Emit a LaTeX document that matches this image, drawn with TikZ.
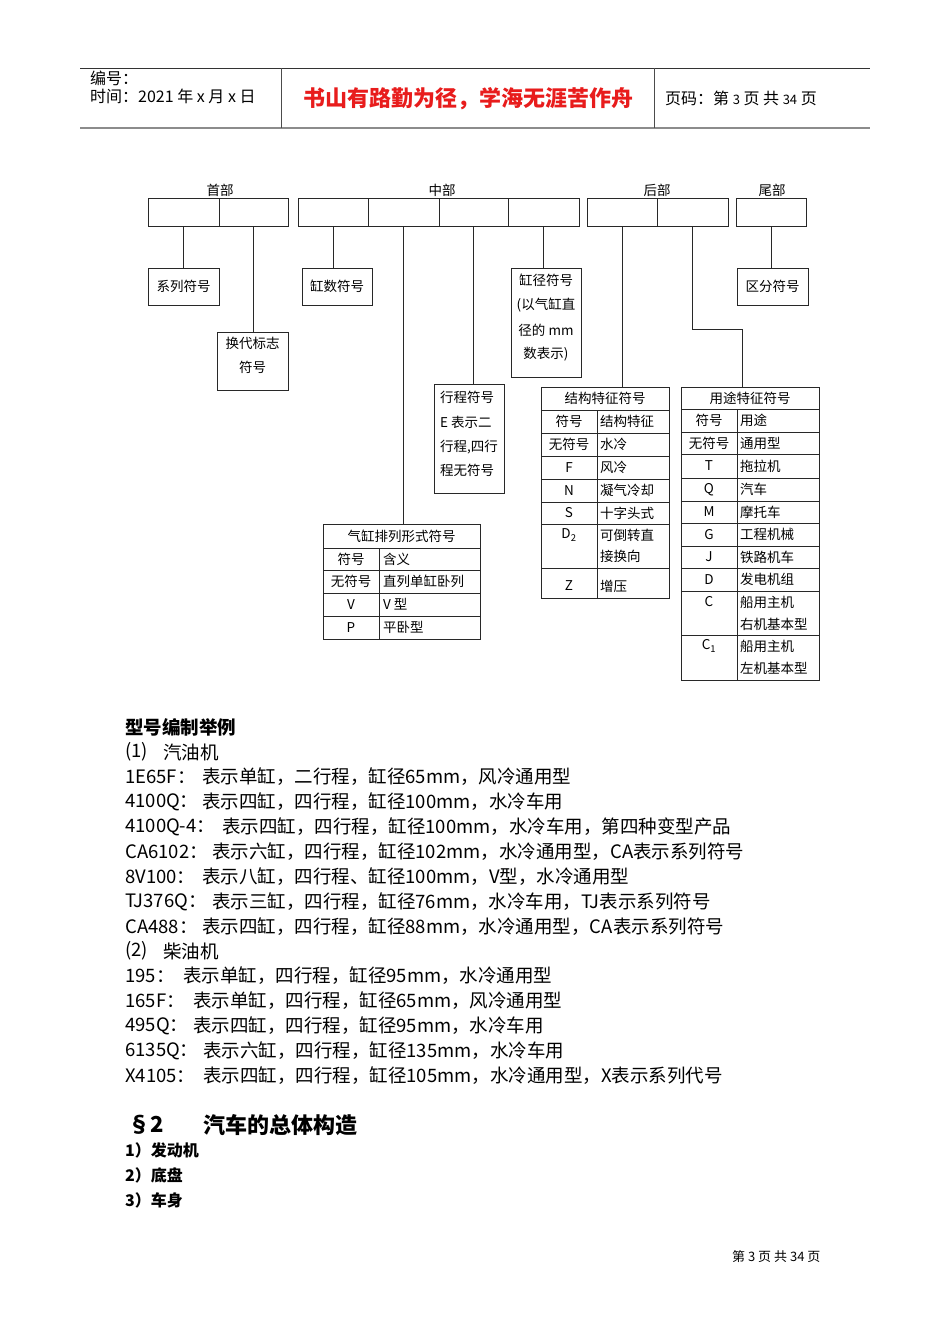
\documentclass[tikz,border=0pt]{standalone}
\usepackage{fontspec}
\setmainfont{Noto Sans CJK SC}
\definecolor{hdred}{RGB}{232,28,28}
\definecolor{ln}{RGB}{40,40,40}
\begin{document}
\begin{tikzpicture}[x=1pt,y=-1pt,
  cell/.style={draw=ln, line width=0.9pt, inner sep=0pt, minimum height=28pt},
  bx/.style={draw=ln, line width=0.9pt, inner sep=0pt},
  conn/.style={draw=ln, line width=0.9pt},
  grid/.style={draw=ln, line width=0.9pt},
  dt/.style={inner sep=0pt, font=\fontsize{13.5}{15}\selectfont},
  dtl/.style={dt, anchor=west},
  bt/.style={inner sep=0pt, anchor=west, font=\fontsize{18.5}{22}\selectfont},
  ht/.style={inner sep=0pt, anchor=west, font=\fontsize{16}{18}\selectfont}]
\useasboundingbox[fill=white] (0,0) rectangle (950,1344);

% ---------- page header ----------
\coordinate (hl1) at (80,68);
\coordinate (hr1) at (870,68);
\coordinate (hl2) at (80,128);
\coordinate (hr2) at (870,128);
\draw[line width=1pt, draw=black!80] (hl1) -- (hr1);
\draw[line width=2pt, draw=black!45] (hl2) -- (hr2);
\coordinate (hv1a) at (281,68); \coordinate (hv1b) at (281,128);
\coordinate (hv2a) at (654,68); \coordinate (hv2b) at (654,128);
\draw[line width=0.8pt, draw=black!70] (hv1a) -- (hv1b);
\draw[line width=0.8pt, draw=black!70] (hv2a) -- (hv2b);
\node[ht] (bh) at (90,78) {编号：};
\node[ht] (sj) at (90,96) {时间：2021 年 x 月 x 日};
\node[inner sep=0pt, text=hdred, font=\fontsize{22}{24}\selectfont\bfseries] (motto) at (468,99) {书山有路勤为径，学海无涯苦作舟};
\node[ht] (ym) at (665,98) {页码：第 {\fontsize{13}{14}\selectfont 3} 页 共 {\fontsize{13}{14}\selectfont 34} 页};

% ---------- group labels ----------
\node[dt] (lsb) at (220,190) {首部};
\node[dt] (lzb) at (442,190) {中部};
\node[dt] (lhb) at (657,190) {后部};
\node[dt] (lwb) at (772,190) {尾部};

% ---------- top cells ----------
\node[cell, minimum width=71pt] (h1) at (183.5,212) {};
\node[cell, minimum width=69pt] (h2) at (253.5,212) {};
\node[cell, minimum width=70pt] (m1) at (333,212) {};
\node[cell, minimum width=71pt] (m2) at (403.5,212) {};
\node[cell, minimum width=69pt] (m3) at (473.5,212) {};
\node[cell, minimum width=71pt] (m4) at (543.5,212) {};
\node[cell, minimum width=70pt] (r1) at (622,212) {};
\node[cell, minimum width=71pt] (r2) at (692.5,212) {};
\node[cell, minimum width=70pt] (t1) at (771,212) {};

% ---------- boxes ----------
\node[bx, minimum width=71pt, minimum height=37pt] (xl) at (183.5,286.5) {};
\node[dt] (xlt) at (xl) {系列符号};
\node[bx, minimum width=71pt, minimum height=58pt] (hd) at (252.5,361) {};
\node[dt] (hdt1) at (252.5,343) {换代标志};
\node[dt] (hdt2) at (252.5,367) {符号};
\node[bx, minimum width=70pt, minimum height=37pt] (gs) at (337,286.5) {};
\node[dt] (gst) at (gs) {缸数符号};
\node[bx, minimum width=70pt, minimum height=109pt] (gj) at (546,322.5) {};
\node[dt] (gjt1) at (546,280) {缸径符号};
\node[dt] (gjt2) at (546,305) {(以气缸直};
\node[dt] (gjt3) at (546,330) {径的 mm};
\node[dt] (gjt4) at (546,354) {数表示)};
\node[bx, minimum width=70pt, minimum height=109pt] (xc) at (469,438.5) {};
\node[dtl] (xct1) at (440,397) {行程符号};
\node[dtl] (xct2) at (440,422) {E 表示二};
\node[dtl] (xct3) at (440,447) {行程,四行};
\node[dtl] (xct4) at (440,470) {程无符号};
\node[bx, minimum width=71pt, minimum height=37pt] (qf) at (772.5,286.5) {};
\node[dt] (qft) at (qf) {区分符号};

% ---------- tables (outer frames) ----------
\node[bx, minimum width=157pt, minimum height=115pt] (pl) at (401.5,581.5) {};
\node[bx, minimum width=128pt, minimum height=211pt] (jg) at (605,492.5) {};
\node[bx, minimum width=138pt, minimum height=293pt] (yt) at (750,533.5) {};

% ---------- connectors ----------
\draw[conn] (h1.south) -- (h1.south |- xl.north);
\draw[conn] (h2.south) -- (h2.south |- hd.north);
\draw[conn] (m1.south) -- (m1.south |- gs.north);
\draw[conn] (m2.south) -- (m2.south |- pl.north);
\draw[conn] (m3.south) -- (m3.south |- xc.north);
\draw[conn] (m4.south) -- (m4.south |- gj.north);
\draw[conn] (r1.south) -- (r1.south |- jg.north);
\coordinate (k1) at (742,329);
\draw[conn] (r2.south) |- (k1) -- (k1 |- yt.north);
\draw[conn] (t1.south) -- (t1.south |- qf.north);

% ---------- table: 气缸排列形式符号 ----------
\foreach \yy in {548,570,593,616} \draw[grid] (323,\yy) -- (480,\yy);
\draw[grid] (379,548) -- (379,639);
\node[dt] (plh) at (401.5,536) {气缸排列形式符号};
\foreach \yy/\a/\b [count=\i] in {559/符号/含义, 581.5/无符号/直列单缸卧列, 604.5/V/V 型, 627.5/P/平卧型}{
  \node[dt] (pla\i) at (351,\yy) {\a};
  \node[dtl] (plb\i) at (383,\yy) {\b};
}

% ---------- table: 结构特征符号 ----------
\foreach \yy in {410,433,456,479,502,524,568} \draw[grid] (541,\yy) -- (669,\yy);
\draw[grid] (597,410) -- (597,598);
\node[dt] (jgh) at (605,398.5) {结构特征符号};
\foreach \yy/\a/\b [count=\i] in {421.5/符号/结构特征, 444.5/无符号/水冷, 467.5/F/风冷, 490.5/N/凝气冷却, 513/S/十字头式}{
  \node[dt] (jga\i) at (569,\yy) {\a};
  \node[dtl] (jgb\i) at (600,\yy) {\b};
}
\node[dt] (jga6) at (569,535) {D\textsubscript{2}};
\node[dtl] (jgb6) at (600,535) {可倒转直};
\node[dtl] (jgc6) at (600,556) {接换向};
\node[dt] (jga7) at (569,586) {Z};
\node[dtl] (jgb7) at (600,586) {增压};

% ---------- table: 用途特征符号 ----------
\foreach \yy in {409,432,454,478,501,523,546,568,591,635} \draw[grid] (681,\yy) -- (819,\yy);
\draw[grid] (737,409) -- (737,680);
\node[dt] (yth) at (750,398) {用途特征符号};
\foreach \yy/\a/\b [count=\i] in {420.5/符号/用途, 443/无符号/通用型, 466/T/拖拉机, 489.5/Q/汽车, 512/M/摩托车, 534.5/G/工程机械, 557/J/铁路机车, 579.5/D/发电机组}{
  \node[dt] (yta\i) at (709,\yy) {\a};
  \node[dtl] (ytb\i) at (740,\yy) {\b};
}
\node[dt] (yta9) at (709,602) {C};
\node[dtl] (ytb9) at (740,602) {船用主机};
\node[dtl] (ytc9) at (740,624) {右机基本型};
\node[dt] (yta10) at (709,646) {C\textsubscript{1}};
\node[dtl] (ytb10) at (740,646) {船用主机};
\node[dtl] (ytc10) at (740,668) {左机基本型};

% ---------- body text ----------
\node[bt, font=\fontsize{18.5}{22}\selectfont\bfseries] (h0) at (125,727) {型号编制举例};
\node[bt] (s1) at (125,752) {(1)};
\node[bt] (s1b) at (163,752) {汽油机};
\foreach \yy/\a/\xx/\b [count=\i] in {
  777/1E65F：/202/表示单缸，二行程，缸径65mm，风冷通用型,
  802/4100Q：/202/表示四缸，四行程，缸径100mm，水冷车用,
  827/4100Q-4：/222/表示四缸，四行程，缸径100mm，水冷车用，第四种变型产品,
  852/CA6102：/212/表示六缸，四行程，缸径102mm，水冷通用型，CA表示系列符号,
  877/8V100：/202/表示八缸，四行程、缸径100mm，V型，水冷通用型,
  902/TJ376Q：/212/表示三缸，四行程，缸径76mm，水冷车用，TJ表示系列符号,
  927/CA488：/202/表示四缸，四行程，缸径88mm，水冷通用型，CA表示系列符号}{
  \node[bt] (ga\i) at (125,\yy) {\a};
  \node[bt] (gb\i) at (\xx,\yy) {\b};
}
\node[bt] (s2) at (125,951) {(2)};
\node[bt] (s2b) at (163,951) {柴油机};
\foreach \yy/\a/\xx/\b [count=\i] in {
  976/195：/183/表示单缸，四行程，缸径95mm，水冷通用型,
  1001/165F：/193/表示单缸，四行程，缸径65mm，风冷通用型,
  1026/495Q：/193/表示四缸，四行程，缸径95mm，水冷车用,
  1051/6135Q：/203/表示六缸，四行程，缸径135mm，水冷车用,
  1076/X4105：/203/表示四缸，四行程，缸径105mm，水冷通用型，X表示系列代号}{
  \node[bt] (da\i) at (125,\yy) {\a};
  \node[bt] (db\i) at (\xx,\yy) {\b};
}
\node[bt, font=\fontsize{22}{24}\selectfont\bfseries] (sec) at (128,1125) {§2};
\node[bt, font=\fontsize{22}{24}\selectfont\bfseries] (sect) at (203,1125) {汽车的总体构造};
\node[bt, font=\fontsize{16}{18}\selectfont\bfseries] (i1) at (125,1150) {1）发动机};
\node[bt, font=\fontsize{16}{18}\selectfont\bfseries] (i2) at (125,1175) {2）底盘};
\node[bt, font=\fontsize{16}{18}\selectfont\bfseries] (i3) at (125,1200) {3）车身};

% ---------- footer ----------
\node[inner sep=0pt, anchor=west, font=\fontsize{13}{14}\selectfont] (ft) at (732,1257) {第 3 页 共 34 页};
\end{tikzpicture}
\end{document}
